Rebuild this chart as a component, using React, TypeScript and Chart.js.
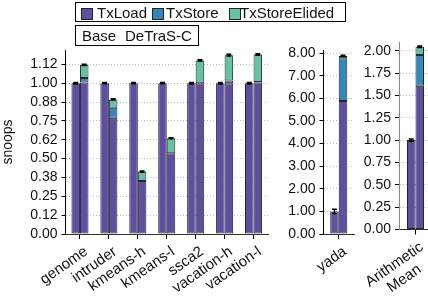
import React, { useEffect, useRef } from 'react';
import { Chart, registerables } from 'chart.js';
Chart.register(...registerables);

const SERIES = ['TxLoad', 'TxStore', 'TxStoreElided'];
const CONFIGS = ['Base', 'DeTraS-C'];
const COLORS = ['#5e4fa2', '#3288bd', '#66c2a5'];

const MAIN_CATEGORIES = ['genome', 'intruder', 'kmeans-h', 'kmeans-l', 'ssca2', 'vacation-h', 'vacation-l'];
const MAIN_BASE_LOAD = [1, 1, 1, 1, 1, 1, 1];
const MAIN_BASE_STORE = [0, 0, 0, 0, 0, 0, 0];
const MAIN_BASE_ELIDED = [0, 0, 0, 0, 0, 0, 0];
const MAIN_DET_LOAD = [1.005, 0.77, 0.352, 0.536, 1.0, 1.0, 1.005];
const MAIN_DET_STORE = [0.03, 0.067, 0, 0, 0, 0.018, 0.003];
const MAIN_DET_ELIDED = [0.087, 0.055, 0.062, 0.099, 0.151, 0.168, 0.182];
const MAIN_BASE_ERR = [0.005, 0.004, 0.004, 0.004, 0.005, 0.005, 0.005];
const MAIN_DET_ERR = [0.004, 0.004, 0.004, 0.004, 0.004, 0.005, 0.005];
const MAIN_TICKS = [0, 0.125, 0.25, 0.375, 0.5, 0.625, 0.75, 0.875, 1.0, 1.125];
const MAIN_TICK_LABELS = ['0.00', '0.12', '0.25', '0.38', '0.50', '0.62', '0.75', '0.88', '1.00', '1.12'];
const MAIN_MAX = 1.22;

const YADA_CATEGORIES = ['yada'];
const YADA_BASE_LOAD = [1];
const YADA_BASE_STORE = [0];
const YADA_BASE_ELIDED = [0];
const YADA_DET_LOAD = [5.88];
const YADA_DET_STORE = [1.9];
const YADA_DET_ELIDED = [0.1];
const YADA_BASE_ERR = [0.09];
const YADA_DET_ERR = [0.03];
const YADA_TICKS = [0, 1, 2, 3, 4, 5, 6, 7, 8];
const YADA_TICK_LABELS = ['0.00', '1.00', '2.00', '3.00', '4.00', '5.00', '6.00', '7.00', '8.00'];
const YADA_MAX = 8.14;

const MEAN_CATEGORIES = [['Arithmetic', 'Mean']];
const MEAN_BASE_LOAD = [1];
const MEAN_BASE_STORE = [0];
const MEAN_BASE_ELIDED = [0];
const MEAN_DET_LOAD = [1.607];
const MEAN_DET_STORE = [0.345];
const MEAN_DET_ELIDED = [0.093];
const MEAN_BASE_ERR = [0.012];
const MEAN_DET_ERR = [0.008];
const MEAN_TICKS = [0, 0.25, 0.5, 0.75, 1.0, 1.25, 1.5, 1.75, 2.0];
const MEAN_TICK_LABELS = ['0.00', '0.25', '0.50', '0.75', '1.00', '1.25', '1.50', '1.75', '2.00'];
const MEAN_MAX = 2.09;

const FONT = "'Liberation Sans', Arial, sans-serif";

type PanelCfg = {
  labels: any[];
  base: number[][];
  det: number[][];
  errs: number[][];
  ticks: number[];
  tickLabels: string[];
  max: number;
  yWidth: number;
  xHeight: number;
  padTop: number;
  padRight: number;
  catPct: number;
  title?: string;
  yBorderColor: string;
};

function errPlugin(errs: number[][]) {
  return {
    id: 'errbars',
    afterDatasetsDraw(chart: any) {
      const ctx = chart.ctx;
      const ys = chart.scales.y;
      [2, 5].forEach((topIdx, g) => {
        const meta = chart.getDatasetMeta(topIdx);
        meta.data.forEach((el: any, i: number) => {
          let total = 0;
          for (let k = 0; k < 3; k++) total += chart.data.datasets[g * 3 + k].data[i] as number;
          const e = errs[g][i];
          const x = el.x;
          const y1 = ys.getPixelForValue(total - e);
          const y2 = ys.getPixelForValue(total + e);
          ctx.save();
          ctx.strokeStyle = '#000';
          ctx.lineWidth = 1.5;
          ctx.beginPath();
          ctx.moveTo(x, y1);
          ctx.lineTo(x, y2);
          ctx.moveTo(x - 2.5, y1);
          ctx.lineTo(x + 2.5, y1);
          ctx.moveTo(x - 2.5, y2);
          ctx.lineTo(x + 2.5, y2);
          ctx.stroke();
          ctx.restore();
        });
      });
    },
  };
}

function xLabelPlugin() {
  return {
    id: 'xlabels',
    afterDraw(chart: any) {
      const ctx = chart.ctx;
      const xs = chart.scales.x;
      const labels: any[] = chart.data.labels;
      ctx.save();
      ctx.font = `15px ${FONT}`;
      ctx.fillStyle = '#111';
      ctx.textBaseline = 'top';
      ctx.textAlign = 'right';
      labels.forEach((lab, i) => {
        const lines: string[] = Array.isArray(lab) ? lab : [lab];
        const widths = lines.map((l) => ctx.measureText(l).width);
        const bw = Math.max(...widths);
        const x = xs.getPixelForTick(i);
        ctx.save();
        ctx.translate(x + 2, xs.top + 10);
        ctx.rotate((-35 * Math.PI) / 180);
        lines.forEach((l, j) => ctx.fillText(l, -(bw - widths[j]) / 2, j * 17));
        ctx.restore();
      });
      ctx.restore();
    },
  };
}

function buildChart(canvas: HTMLCanvasElement, c: PanelCfg) {
  const datasets: any[] = [];
  [c.base, c.det].forEach((grp, g) => {
    grp.forEach((vals, k) => {
      datasets.push({
        label: CONFIGS[g] + ' ' + SERIES[k],
        data: vals,
        stack: CONFIGS[g],
        backgroundColor: COLORS[k],
        borderColor: 'rgba(0,0,0,0.85)',
        borderWidth: 1,
        borderSkipped: false,
        categoryPercentage: c.catPct,
        barPercentage: 1.0,
      });
    });
  });
  return new Chart(canvas, {
    type: 'bar',
    data: { labels: c.labels, datasets },
    plugins: [errPlugin(c.errs), xLabelPlugin()],
    options: {
      animation: false,
      responsive: false,
      maintainAspectRatio: false,
      layout: { padding: { top: c.padTop, right: c.padRight, left: 0, bottom: 0 } },
      plugins: { legend: { display: false }, tooltip: { enabled: false } },
      scales: {
        x: {
          stacked: true,
          grid: { display: true, drawOnChartArea: false, offset: false, tickLength: 5, color: '#000' },
          border: { color: '#333', width: 1 },
          ticks: { display: false },
          afterFit: (s: any) => {
            s.height = c.xHeight;
            s.paddingLeft = 0;
            s.paddingRight = 0;
          },
        },
        y: {
          stacked: true,
          min: 0,
          max: c.max,
          afterBuildTicks: (s: any) => {
            s.ticks = c.ticks.map((v) => ({ value: v }));
          },
          ticks: {
            callback: (v: any) => {
              const i = c.ticks.indexOf(Number(v));
              return i >= 0 ? c.tickLabels[i] : '';
            },
            padding: 4,
            color: '#111',
            font: { family: FONT, size: 14 },
          },
          grid: { color: '#bdbdbd', tickColor: '#000', tickLength: 4, lineWidth: 1 },
          border: { dash: [1, 2], color: c.yBorderColor, width: 1 },
          title: c.title
            ? { display: true, text: c.title, color: '#111', font: { family: FONT, size: 14 }, padding: 0 }
            : { display: false },
          afterFit: (s: any) => {
            s.width = c.yWidth;
            s.paddingTop = 0;
            s.paddingBottom = 0;
          },
        },
      },
    } as any,
  });
}

export default function App() {
  const mainRef = useRef<HTMLCanvasElement>(null);
  const yadaRef = useRef<HTMLCanvasElement>(null);
  const meanRef = useRef<HTMLCanvasElement>(null);

  useEffect(() => {
    const charts: Chart[] = [];
    if (mainRef.current)
      charts.push(
        buildChart(mainRef.current, {
          labels: MAIN_CATEGORIES,
          base: [MAIN_BASE_LOAD, MAIN_BASE_STORE, MAIN_BASE_ELIDED],
          det: [MAIN_DET_LOAD, MAIN_DET_STORE, MAIN_DET_ELIDED],
          errs: [MAIN_BASE_ERR, MAIN_DET_ERR],
          ticks: MAIN_TICKS,
          tickLabels: MAIN_TICK_LABELS,
          max: MAIN_MAX,
          yWidth: 65.5,
          xHeight: 66,
          padTop: 50,
          padRight: 7,
          catPct: 0.59,
          title: 'snoops',
          yBorderColor: '#000',
        })
      );
    if (yadaRef.current)
      charts.push(
        buildChart(yadaRef.current, {
          labels: YADA_CATEGORIES,
          base: [YADA_BASE_LOAD, YADA_BASE_STORE, YADA_BASE_ELIDED],
          det: [YADA_DET_LOAD, YADA_DET_STORE, YADA_DET_ELIDED],
          errs: [YADA_BASE_ERR, YADA_DET_ERR],
          ticks: YADA_TICKS,
          tickLabels: YADA_TICK_LABELS,
          max: YADA_MAX,
          yWidth: 45.5,
          xHeight: 66,
          padTop: 50,
          padRight: 6,
          catPct: 0.56,
          yBorderColor: '#000',
        })
      );
    if (meanRef.current)
      charts.push(
        buildChart(meanRef.current, {
          labels: MEAN_CATEGORIES,
          base: [MEAN_BASE_LOAD, MEAN_BASE_STORE, MEAN_BASE_ELIDED],
          det: [MEAN_DET_LOAD, MEAN_DET_STORE, MEAN_DET_ELIDED],
          errs: [MEAN_BASE_ERR, MEAN_DET_ERR],
          ticks: MEAN_TICKS,
          tickLabels: MEAN_TICK_LABELS,
          max: MEAN_MAX,
          yWidth: 44,
          xHeight: 70.5,
          padTop: 42.7,
          padRight: 8,
          catPct: 0.515,
          yBorderColor: '#888',
        })
      );
    return () => charts.forEach((ch) => ch.destroy());
  }, []);

  const swatch = (color: string, left: number) => (
    <div
      style={{
        position: 'absolute',
        left,
        top: 5,
        width: 10,
        height: 10,
        background: color,
        border: '1px solid #222',
      }}
    />
  );
  const text = (t: string, left: number) => (
    <span style={{ position: 'absolute', left, top: 0, lineHeight: '20px', whiteSpace: 'pre' }}>{t}</span>
  );

  return (
    <div
      style={{
        position: 'absolute',
        left: 0,
        top: 0,
        width: 428,
        height: 300,
        overflow: 'hidden',
        background: '#fff',
        fontFamily: FONT,
        fontSize: 15,
        color: '#111',
      }}
    >
      <canvas ref={mainRef} width={275} height={300} style={{ position: 'absolute', left: 0, top: 0, width: 275, height: 300 }} />
      <canvas ref={yadaRef} width={82} height={300} style={{ position: 'absolute', left: 278, top: 0, width: 82, height: 300 }} />
      <canvas ref={meanRef} width={85} height={300} style={{ position: 'absolute', left: 355, top: 0, width: 85, height: 300 }} />
      <div
        style={{
          position: 'absolute',
          left: 75,
          top: 2,
          width: 269,
          height: 18,
          border: '1px solid #000',
          background: '#fff',
        }}
      >
        {swatch(COLORS[0], 5)}
        {text(SERIES[0], 21)}
        {swatch(COLORS[1], 76)}
        {text(SERIES[1], 90)}
        {swatch(COLORS[2], 153)}
        {text(SERIES[2], 164)}
      </div>
      <div
        style={{
          position: 'absolute',
          left: 75,
          top: 25,
          width: 122,
          height: 19,
          border: '1px solid #000',
          background: '#fff',
        }}
      >
        {text(CONFIGS[0], 6)}
        {text(CONFIGS[1], 49)}
      </div>
    </div>
  );
}
